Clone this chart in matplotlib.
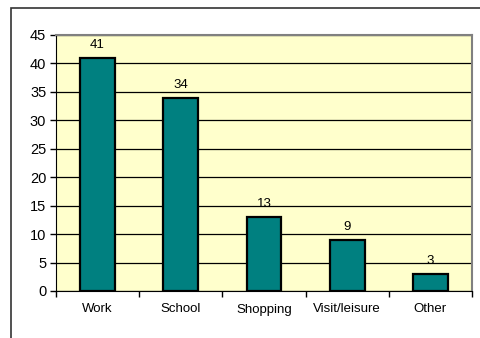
import numpy as np
import matplotlib.pyplot as plt
from matplotlib.patches import Rectangle

plt.rcParams['font.family'] = ['Liberation Sans', 'DejaVu Sans']

categories = ['Work', 'School', 'Shopping', 'Visit/leisure', 'Other']
values = [41, 34, 13, 9, 3]
y_ticks = [0, 5, 10, 15, 20, 25, 30, 35, 40, 45]

W, H = 480, 338
fig = plt.figure(figsize=(W / 100, H / 100), dpi=100)

# outer chart frame, runs off the right and bottom edges
frame = Rectangle((11 / W, -0.05), 1.2, 1 - 7.5 / H + 0.05, transform=fig.transFigure,
                  fill=False, edgecolor='#333333', linewidth=1.2)
fig.patches.append(frame)

left, right, top, bottom = 56, 472, 35, 291
ax = fig.add_axes([left / W, 1 - bottom / H, (right - left) / W, (bottom - top) / H])
ax.set_facecolor('#FFFFCC')

x = np.arange(len(categories))
ax.bar(x, values, width=0.42, color='#008080', edgecolor='black', linewidth=1.6, zorder=3)
for xi, v in zip(x, values):
    ax.annotate(str(v), xy=(xi, v), xytext=(0, 5), textcoords='offset points',
                ha='center', va='bottom', fontsize=9.5)

ax.set_xlim(-0.5, len(categories) - 0.5)
ax.set_ylim(0, 45)
ax.set_yticks(y_ticks)
ax.tick_params(axis='y', labelsize=10.5, length=4, width=1, direction='out', pad=3)
ax.yaxis.grid(True, color='black', linewidth=0.9, zorder=1)
ax.set_axisbelow(True)

# category labels centred on bars, tick marks between categories
ax.set_xticks(np.arange(len(categories) + 1) - 0.5)
ax.set_xticklabels([])
ax.set_xticks(x, minor=True)
ax.set_xticklabels(categories, minor=True, fontsize=9.5)
ax.tick_params(axis='x', which='major', length=4, width=1, direction='out')
ax.tick_params(axis='x', which='minor', length=0, pad=9)

for s in ['top', 'right']:
    ax.spines[s].set_color('#808080')
    ax.spines[s].set_linewidth(1.5)
ax.spines['left'].set_color('black')
ax.spines['bottom'].set_color('black')

fig.savefig('out.png', dpi=100)
